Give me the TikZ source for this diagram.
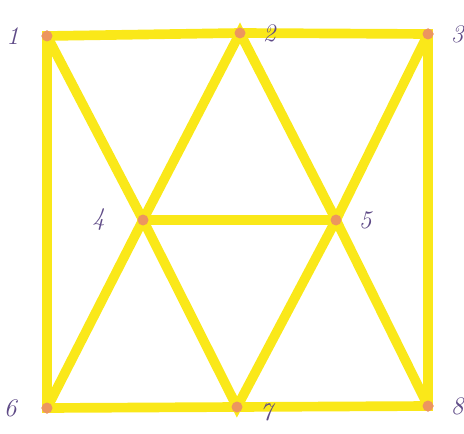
\documentclass[tikz,border=0pt]{standalone}
\usepackage{tikz}
\usetikzlibrary{positioning}
\definecolor{marker}{RGB}{250, 232, 25}
\definecolor{dotcol}{RGB}{236, 150, 95}
\definecolor{ink}{RGB}{95, 75, 135}

\begin{document}
\begin{tikzpicture}[
  vertex/.style={circle, fill=dotcol, inner sep=0pt, minimum size=0.22cm},
  num/.style={text=ink, font=\Large\itshape, inner sep=1pt},
  edge/.style={draw=marker, line width=5.5pt, line cap=round}
]
\useasboundingbox (0,0) rectangle (9.28,8.66);
\node[vertex] (v1) at (0.94,7.94) {};
\node[vertex] (v2) at (4.80,8.00) {};
\node[vertex] (v3) at (8.56,7.98) {};
\node[vertex] (v4) at (2.86,4.26) {};
\node[vertex] (v5) at (6.72,4.26) {};
\node[vertex] (v6) at (0.94,0.50) {};
\node[vertex] (v7) at (4.74,0.52) {};
\node[vertex] (v8) at (8.56,0.54) {};
% outer frame
\draw[edge] (v1.center) -- (v2.center) -- (v3.center) -- (v8.center) -- (v7.center) -- (v6.center) -- cycle;
% inner triangles
\draw[edge] (v1.center) -- (v4.center) -- (v2.center) -- (v5.center) -- (v3.center);
\draw[edge] (v4.center) -- (v5.center);
\draw[edge] (v6.center) -- (v4.center) -- (v7.center) -- (v5.center) -- (v8.center);
% dots again on top of the lines
\foreach \v in {v1,v2,v3,v4,v5,v6,v7,v8}
  \fill[dotcol] (\v) circle (0.11cm);
\node[num, left=0.4cm of v1] (l1) {1};
\node[num, right=0.3cm of v2] (l2) {2};
\node[num, right=0.3cm of v3] (l3) {3};
\node[num, left=0.6cm of v4] (l4) {4};
\node[num, right=0.3cm of v5] (l5) {5};
\node[num, left=0.45cm of v6] (l6) {6};
\node[num, right=0.3cm of v7, yshift=-0.1cm] (l7) {7};
\node[num, right=0.3cm of v8] (l8) {8};
\end{tikzpicture}
\end{document}
